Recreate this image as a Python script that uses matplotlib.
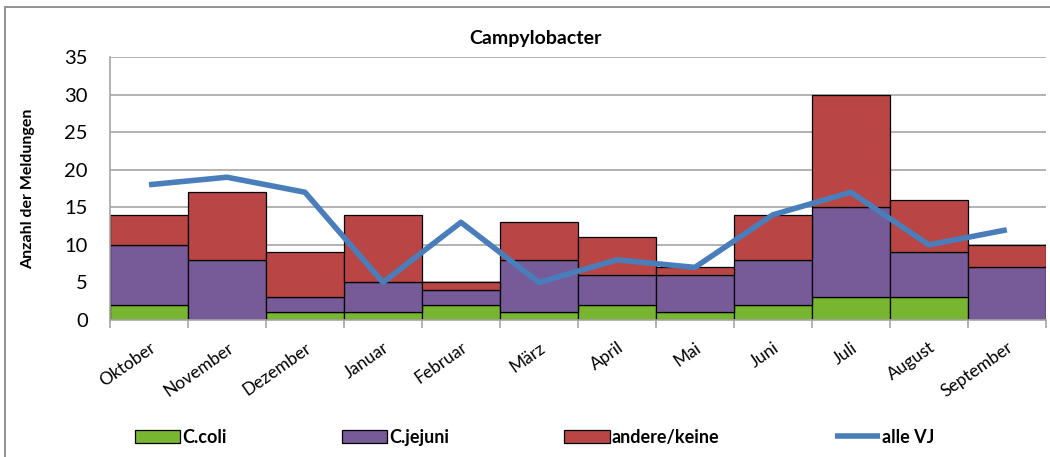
import matplotlib
matplotlib.use('Agg')
import matplotlib.pyplot as plt
from matplotlib.patches import Rectangle
import numpy as np

plt.rcParams['font.family'] = ['Lato', 'DejaVu Sans']

months = ['Oktober', 'November', 'Dezember', 'Januar', 'Februar', 'März',
          'April', 'Mai', 'Juni', 'Juli', 'August', 'September']
c_coli = [2, 0, 1, 1, 2, 1, 2, 1, 2, 3, 3, 0]
c_jejuni = [8, 8, 2, 4, 2, 7, 4, 5, 6, 12, 6, 7]
andere = [4, 9, 6, 9, 1, 5, 5, 1, 6, 15, 7, 3]
alle_vj = [18, 19, 17, 5, 13, 5, 8, 7, 14, 17, 10, 12]

green = '#78B530'
purple = '#775A98'
red = '#B94545'
blue = '#4A7EBB'

fig = plt.figure(figsize=(10.5, 4.57), dpi=100)
ax = fig.add_axes([0.1048, 0.2998, 0.8912, 0.5755])

# outer chart frame
fig.patches.append(Rectangle((5 / 1050, -0.1), 1.2, 1 - 7 / 457 + 0.1,
                             transform=fig.transFigure, fill=False,
                             edgecolor='#7f7f7f', linewidth=1.2))

x = np.arange(len(months))
bottom2 = np.array(c_coli)
bottom3 = bottom2 + np.array(c_jejuni)
b1 = ax.bar(x, c_coli, width=1.0, color=green, edgecolor='black', linewidth=0.9, label='C.coli', zorder=2)
b2 = ax.bar(x, c_jejuni, width=1.0, bottom=bottom2, color=purple, edgecolor='black', linewidth=0.9, label='C.jejuni', zorder=2)
b3 = ax.bar(x, andere, width=1.0, bottom=bottom3, color=red, edgecolor='black', linewidth=0.9, label='andere/keine', zorder=2)
l1, = ax.plot(x, alle_vj, color=blue, linewidth=4, label='alle VJ', zorder=3, solid_capstyle='butt')

ax.set_xlim(-0.5, len(months) - 0.5)
ax.set_ylim(0, 35)
ax.set_yticks(range(0, 36, 5))
ax.tick_params(axis='y', length=0, labelsize=14.5, pad=16)
ax.yaxis.grid(True, color='#a6a6a6', linewidth=1.2, zorder=0)
ax.set_axisbelow(True)

ax.set_xticks(x)
ax.set_xticklabels(months, rotation=35, ha='right', rotation_mode='anchor', fontsize=12.5)
ax.set_xticks(np.arange(-0.5, len(months)), minor=True)
ax.tick_params(axis='x', which='major', length=0, pad=14)
ax.tick_params(axis='x', which='minor', length=6, color='#a6a6a6', width=1.2)

for s in ['top', 'right']:
    ax.spines[s].set_visible(False)
ax.spines['left'].set_color('#a6a6a6')
ax.spines['left'].set_linewidth(1.2)
ax.spines['bottom'].set_color('#a6a6a6')
ax.spines['bottom'].set_linewidth(1.2)

ax.set_ylabel('Anzahl der Meldungen', fontsize=11.5, fontweight='bold')
ax.yaxis.set_label_coords(-0.08, 0.5)
fig.text(0.51, 0.915, 'Campylobacter', ha='center', va='center', fontsize=14, fontweight='bold')

leg = fig.legend([b1, b2, b3, l1], ['C.coli', 'C.jejuni', 'andere/keine', 'alle VJ'],
                 loc='center', bbox_to_anchor=(0.509, 0.043), ncol=4, frameon=False,
                 handlelength=2.5, handleheight=0.8, columnspacing=6.4, handletextpad=0.1,
                 prop={'size': 13, 'weight': 'bold'})

plt.savefig('out.png', dpi=100)
